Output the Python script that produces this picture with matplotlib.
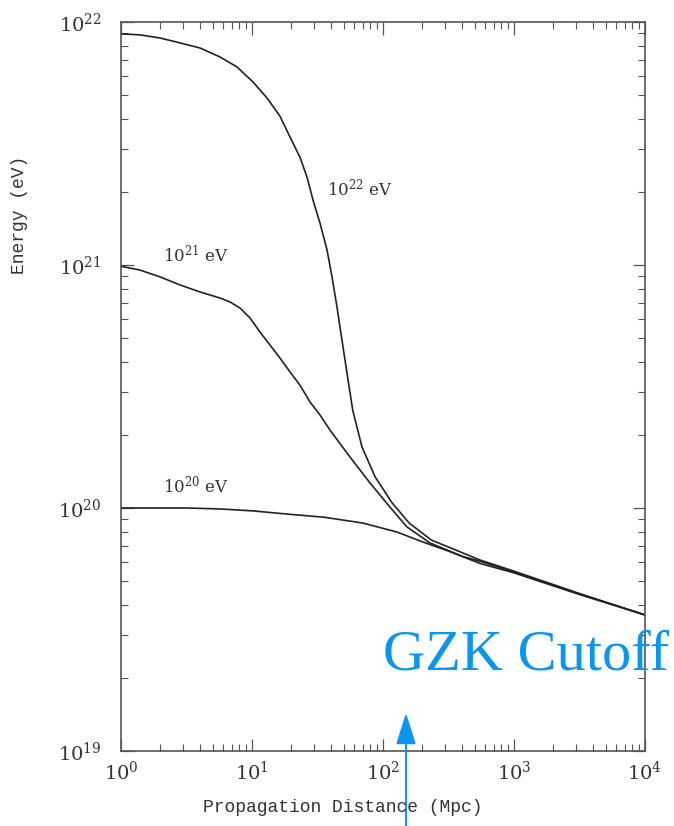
import numpy as np
import matplotlib
matplotlib.use("Agg")
import matplotlib.pyplot as plt
from matplotlib.patches import FancyArrowPatch
from matplotlib.ticker import LogLocator, NullFormatter

# Values, as log10(distance / Mpc) and log10(energy / eV)
logx_22 = [0.0, 0.145, 0.298, 0.45, 0.603, 0.756, 0.885, 1.008, 1.115, 1.214, 1.29,
           1.366, 1.42, 1.466, 1.519, 1.573, 1.611, 1.649, 1.687, 1.725, 1.77, 1.84,
           1.94, 2.07, 2.2, 2.37, 2.61, 2.74, 3.0, 3.5, 4.0]
loge_22 = [21.951, 21.947, 21.934, 21.914, 21.893, 21.856, 21.815, 21.753, 21.687, 21.612, 21.527,
           21.444, 21.362, 21.267, 21.173, 21.062, 20.951, 20.827, 20.691, 20.556, 20.40, 20.251,
           20.128, 20.021, 19.938, 19.868, 19.815, 19.786, 19.74, 19.648, 19.56]

logx_21 = [0.0, 0.145, 0.298, 0.45, 0.603, 0.756, 0.832, 0.908, 0.985, 1.061, 1.137,
           1.214, 1.29, 1.366, 1.443, 1.519, 1.595, 1.748, 1.901, 2.053, 2.183, 2.359,
           2.611, 2.74, 3.0, 3.5, 4.0]
loge_21 = [20.995, 20.979, 20.951, 20.918, 20.889, 20.864, 20.848, 20.823, 20.782, 20.724, 20.671,
           20.617, 20.56, 20.506, 20.436, 20.383, 20.321, 20.21, 20.103, 20.004, 19.922, 19.856,
           19.80, 19.781, 19.737, 19.646, 19.56]

logx_20 = [0.0, 0.504, 0.756, 1.008, 1.267, 1.55, 1.847, 2.107, 2.305, 2.489, 2.74, 3.0, 3.5, 4.0]
loge_20 = [20.0, 20.0, 19.996, 19.988, 19.975, 19.962, 19.938, 19.901, 19.86, 19.825, 19.772,
           19.733, 19.644, 19.56]

curve_labels = [r"$10^{22}$ eV", r"$10^{21}$ eV", r"$10^{20}$ eV"]
xtick_vals = [1, 10, 100, 1000, 10000]
ytick_vals = [1e19, 1e20, 1e21, 1e22]

plt.rcParams["mathtext.fontset"] = "dejavuserif"

fig = plt.figure(figsize=(6.74, 8.26), dpi=100)
ax = fig.add_axes([0.1795, 0.0908, 0.7774, 0.8826])

line_col = "#222222"
text_col = "#333333"
for lx, le in [(logx_22, loge_22), (logx_21, loge_21), (logx_20, loge_20)]:
    ax.plot(10 ** np.array(lx), 10 ** np.array(le), color=line_col, lw=1.2,
            solid_joinstyle="round")

ax.set_xscale("log")
ax.set_yscale("log")
ax.set_xlim(1, 1e4)
ax.set_ylim(1e19, 1e22)

ax.set_xticks(xtick_vals)
ax.set_xticklabels([r"$10^{%d}$" % i for i in range(5)])
ax.set_yticks(ytick_vals)
ax.set_yticklabels([r"$10^{%d}$" % i for i in range(19, 23)])
ax.xaxis.set_minor_locator(LogLocator(base=10, subs=np.arange(2, 10)))
ax.yaxis.set_minor_locator(LogLocator(base=10, subs=np.arange(2, 10)))
ax.xaxis.set_minor_formatter(NullFormatter())
ax.yaxis.set_minor_formatter(NullFormatter())

ax.tick_params(which="both", direction="in", top=True, right=True, colors="#555555",
               labelcolor=text_col, labelsize=14)
ax.tick_params(which="major", length=9, width=0.9)
ax.tick_params(which="minor", length=5, width=0.8)
ax.tick_params(axis="x", pad=7)
ax.tick_params(axis="y", pad=14)
for s in ax.spines.values():
    s.set_color("#555555")
    s.set_linewidth(1.2)

# curve labels
ax.text(0.394, 0.772, curve_labels[0], transform=ax.transAxes, fontsize=12,
        family="DejaVu Serif", color=text_col, ha="left", va="center")
ax.text(0.08, 0.679, curve_labels[1], transform=ax.transAxes, fontsize=12,
        family="DejaVu Serif", color=text_col, ha="left", va="center")
ax.text(0.08, 0.364, curve_labels[2], transform=ax.transAxes, fontsize=12,
        family="DejaVu Serif", color=text_col, ha="left", va="center")

# axis labels
fig.text(343 / 674, 1 - 808 / 826, "Propagation Distance (Mpc)", family="Liberation Mono",
         fontsize=13, color=text_col, ha="center", va="center")
fig.text(20 / 674, 1 - 215 / 826, "Energy (eV)", family="Liberation Mono",
         fontsize=13, color=text_col, ha="center", va="center", rotation=90)

# GZK annotation
blue = "#0a96f0"
fig.text(526 / 674, 1 - 655 / 826, "GZK Cutoff", family="Liberation Serif",
         fontsize=42, color=blue, ha="center", va="center")
fig.add_artist(FancyArrowPatch(
    (406 / 674, 0.0), (406 / 674, 1 - 713 / 826), transform=fig.transFigure,
    arrowstyle="-|>,head_length=1.39,head_width=0.44", mutation_scale=14,
    color=blue, lw=1.4, shrinkA=0, shrinkB=0))

fig.savefig("out.png", dpi=100)
